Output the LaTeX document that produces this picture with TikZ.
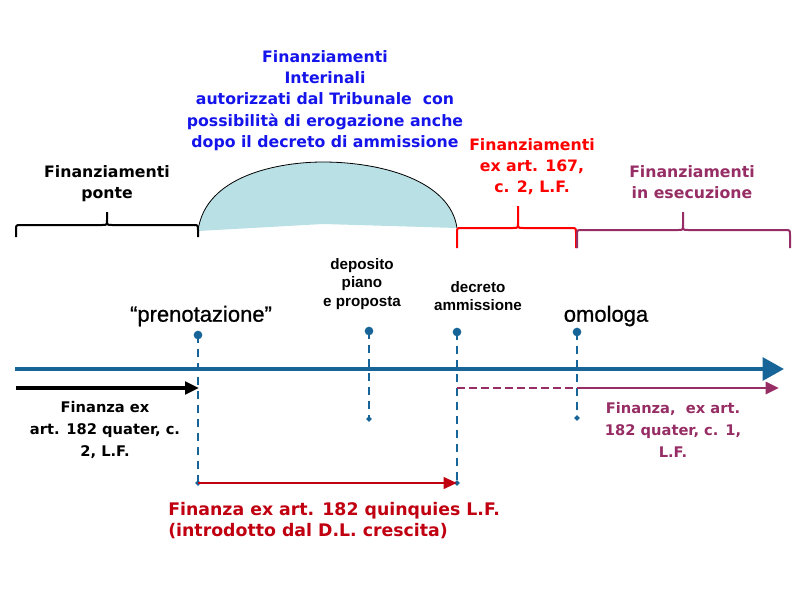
\documentclass[tikz,border=0pt]{standalone}
\usepackage{fontspec}
\setmainfont{DejaVu Sans}
\newfontfamily\arialf{Liberation Sans}
\newfontfamily\arialmed[FakeBold=0.8]{Liberation Sans}
\usetikzlibrary{arrows.meta,shapes.geometric}
\definecolor{tlblue}{RGB}{22,100,152}
\definecolor{domefill}{RGB}{185,224,228}
\definecolor{txtblue}{RGB}{20,20,235}
\definecolor{txtred}{RGB}{255,0,0}
\definecolor{txtpurple}{RGB}{150,45,100}
\definecolor{darkred}{RGB}{192,0,16}
\newcommand\mybrace[7]{% color, x1, x2, xc, ybar, yend, ytip
  \draw[#1,line width=1.5pt,line join=round]
    (#2,#6) -- (#2,#5+5) .. controls (#2,#5) .. (#2+5,#5) -- (#4-5,#5)
    .. controls (#4,#5) .. (#4,#5-5) -- (#4,#7)
    (#4,#5-5) .. controls (#4,#5) .. (#4+5,#5) -- (#3-5,#5)
    .. controls (#3,#5) .. (#3,#5+5) -- (#3,#6);}
\tikzset{
  toptext/.style={font=\fontsize{11.8}{16}\selectfont\bfseries,align=center,inner sep=0pt},
  bottext/.style={font=\fontsize{11}{16.5}\selectfont\bfseries,align=center,inner sep=0pt},
  smalltext/.style={font=\arialf\fontsize{11.4}{14}\selectfont\bfseries,align=center,inner sep=0pt},
  bigtext/.style={font=\arialmed\fontsize{16.5}{18}\selectfont,inner sep=0pt},
  vdash/.style={tlblue,line width=1.7pt,dash pattern=on 6pt off 4.5pt},
  topdot/.style={circle,fill=tlblue,inner sep=0pt,minimum size=6.5pt},
  botdot/.style={diamond,fill=tlblue,inner sep=0pt,minimum size=4.5pt},
}
\begin{document}
\begin{tikzpicture}[x=0.75pt,y=-0.75pt]
\useasboundingbox (0,0) rectangle (800,600);
% dome
\fill[domefill] (198,231) .. controls (205,175) and (280,162) .. (323,162)
  .. controls (380,162) and (450,180) .. (457,228) -- (323,224) -- cycle;
\draw[line width=0.6pt] (198,231) .. controls (205,175) and (280,162) .. (323,162)
  .. controls (380,162) and (450,180) .. (457,228);
% braces
\mybrace{black}{16}{198}{107}{225}{237}{212}
\mybrace{txtred}{457}{576}{518}{228}{248}{206}
\mybrace{txtpurple}{577}{790}{683}{230}{248}{212}
% texts top
\node[toptext] (tponte) at (107,183.5) {Finanziamenti\\ponte};
\node[toptext,text=txtblue] (tinter) at (325,100.5) {Finanziamenti\\Interinali\\autorizzati dal Tribunale\ \ con\\possibilità di erogazione anche\\dopo il decreto di ammissione};
\node[toptext,text=txtred] (t167) at (532,166.5) {Finanziamenti\\ex art. 167,\\c. 2, L.F.};
\node[toptext,text=txtpurple] (tesec) at (692,182) {Finanziamenti\\in esecuzione};
\node[smalltext] (tdep) at (362,284) {deposito\\piano\\e proposta};
\node[smalltext] (tdec) at (478,296) {decreto\\ammissione};
\node[bigtext] (tpren) at (201,316) {“prenotazione”};
\node[bigtext] (tomo) at (606,316) {omologa};
% event markers
\node[topdot] (d1t) at (198,335) {};
\node[topdot] (d2t) at (369,331) {};
\node[topdot] (d3t) at (457,332) {};
\node[topdot] (d4t) at (577,332) {};
\node[botdot] (d1b) at (198,483) {};
\node[botdot] (d2b) at (369,419) {};
\node[botdot] (d3b) at (457,483) {};
\node[botdot] (d4b) at (577,418) {};
\draw[vdash] (d1t.center) -- (d1b.center);
\draw[vdash] (d2t.center) -- (d2b.center);
\draw[vdash] (d3t.center) -- (d3b.center);
\draw[vdash] (d4t.center) -- (d4b.center);
% main timeline
\coordinate (mstart) at (15,369);
\coordinate (mend) at (784,369);
\draw[tlblue,line width=3pt,-{Triangle[length=16pt,width=17pt]}] (mstart) -- (mend);
% black arrow
\coordinate (bstart) at (16,388);
\coordinate (bend) at (199,388);
\draw[black,line width=2.3pt,-{Triangle[length=10.5pt,width=9.5pt]}] (bstart) -- (bend);
% purple arrow
\coordinate (pstart) at (457,388);
\coordinate (pmid) at (577,388);
\coordinate (pend) at (779,388);
\draw[txtpurple,line width=2.2pt,dash pattern=on 6pt off 3pt] (pstart) -- (pmid);
\draw[txtpurple,line width=2.2pt,-{Triangle[length=10pt,width=9pt]}] (pmid) -- (pend);
% red bottom arrow
\draw[darkred,line width=2.2pt,-{Triangle[length=10pt,width=8.5pt]}] (d1b.center) -- (d3b.center);
% bottom texts
\node[bottext] (tfin1) at (105,430) {Finanza ex\\art. 182 quater, c.\\2, L.F.};
\node[bottext,text=txtpurple] (tfin2) at (673,430) {Finanza,\ \ ex art.\\182 quater, c. 1,\\L.F.};
\node[font=\fontsize{13}{16}\selectfont\bfseries,text=darkred,align=left,anchor=west,inner sep=0pt] (tfin3) at (168,520.5) {Finanza ex art. 182 quinquies L.F.\\(introdotto dal D.L. crescita)};
\end{tikzpicture}
\end{document}
